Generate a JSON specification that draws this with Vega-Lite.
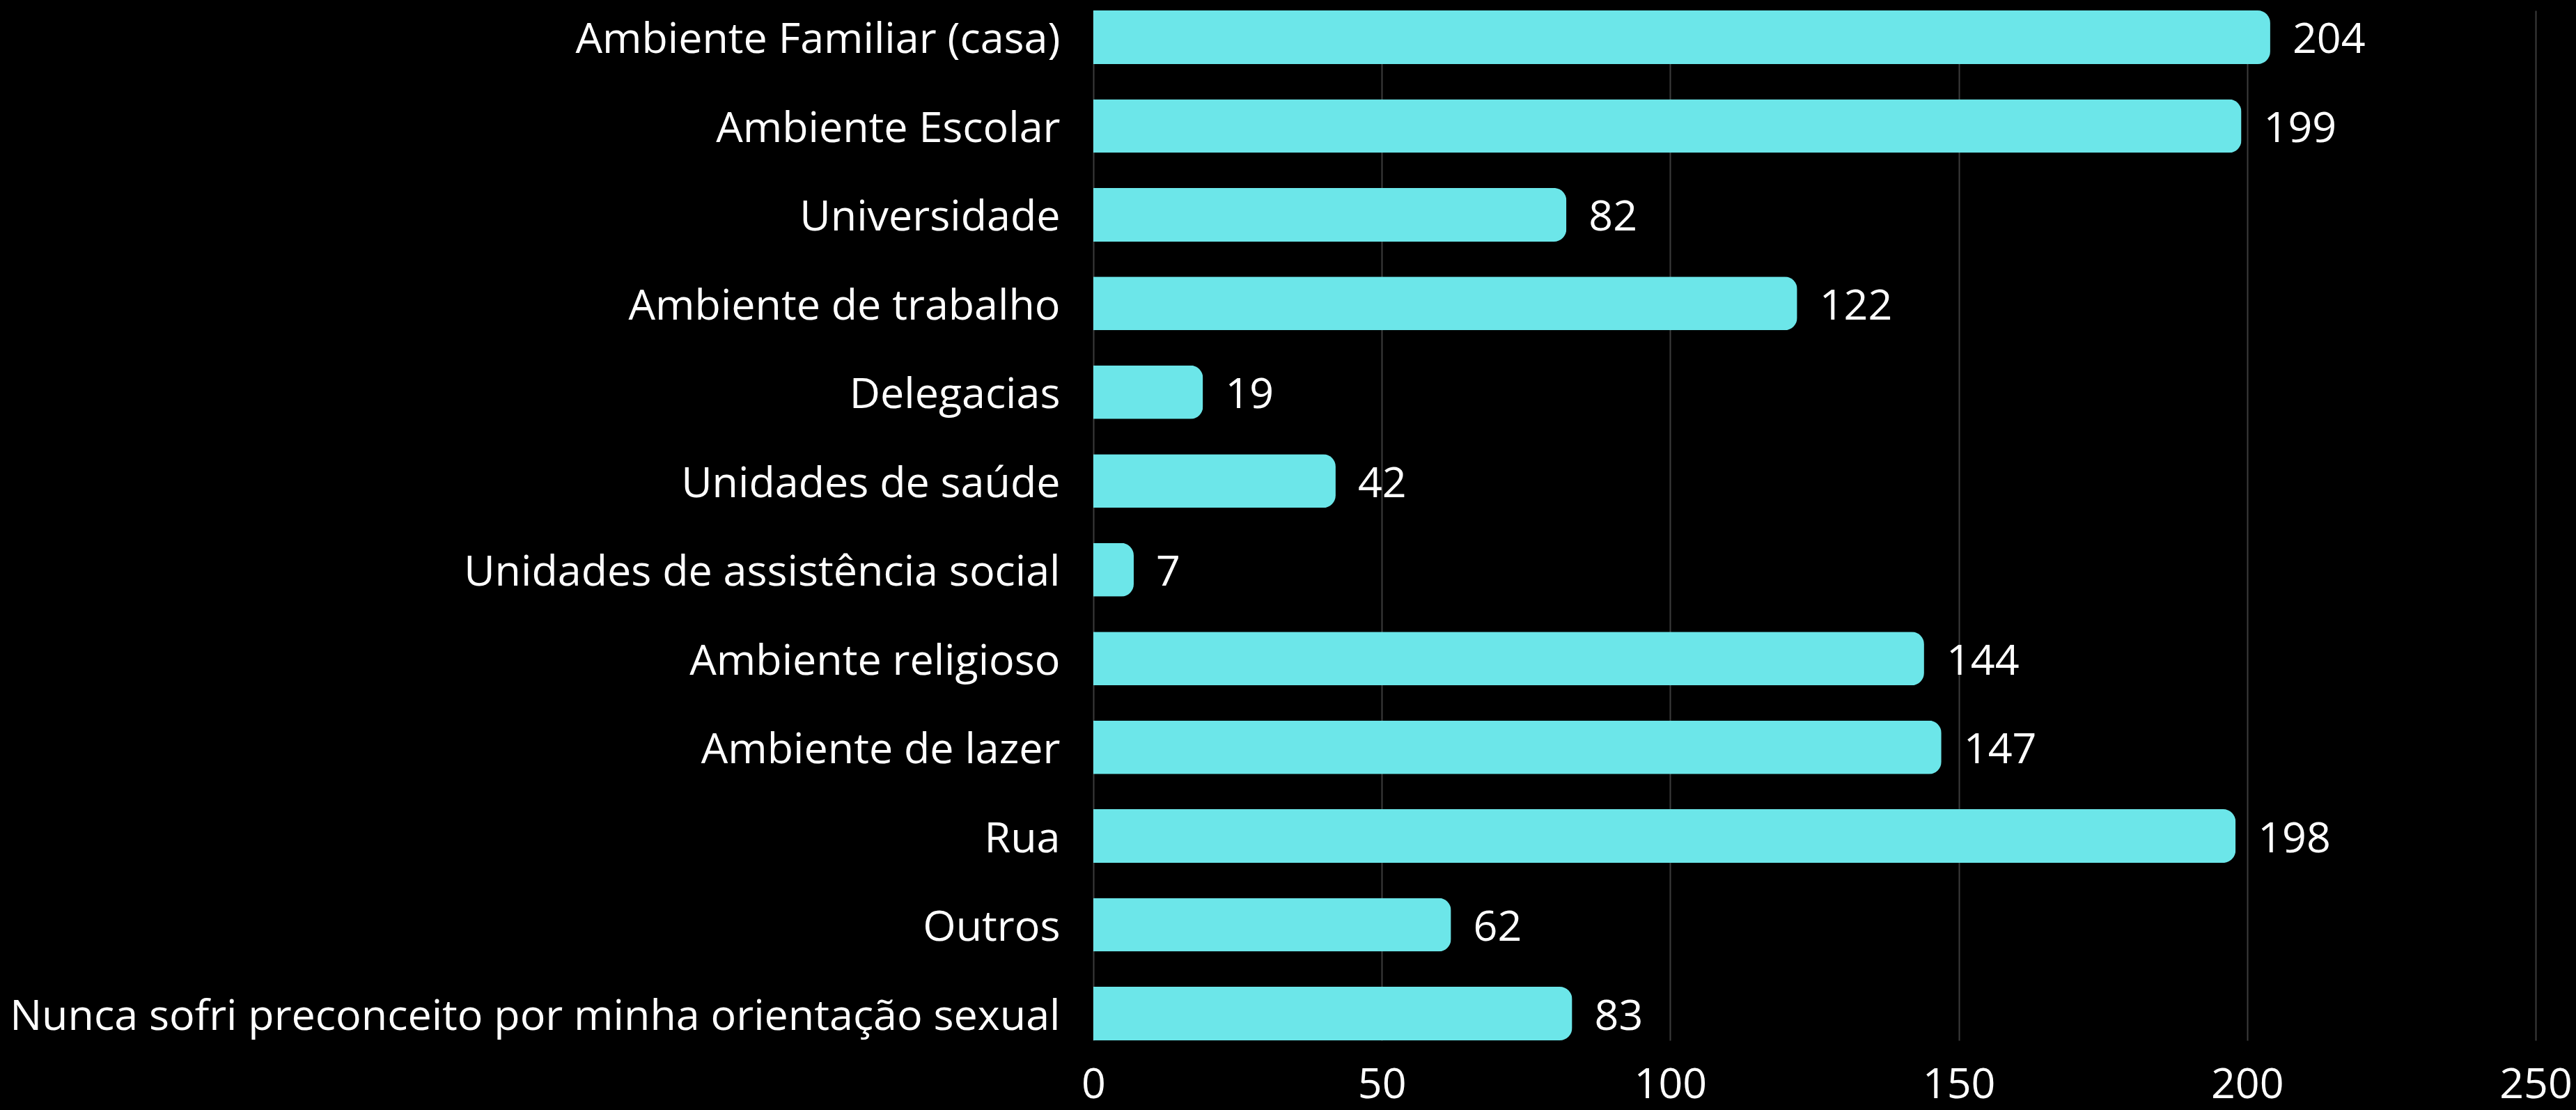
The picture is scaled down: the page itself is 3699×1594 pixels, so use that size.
{
  "$schema": "https://vega.github.io/schema/vega-lite/v6.json",
  "autosize": {"type": "none"},
  "width": 2071,
  "height": 1479,
  "padding": {"left": 1570, "top": 15, "right": 58, "bottom": 100},
  "background": "#000000",
  "config": {
    "view": {"stroke": null},
    "font": "Open Sans"
  },
  "data": {
    "values": [
      {"local": "Ambiente Familiar (casa)", "n": 204},
      {"local": "Ambiente Escolar", "n": 199},
      {"local": "Universidade", "n": 82},
      {"local": "Ambiente de trabalho", "n": 122},
      {"local": "Delegacias", "n": 19},
      {"local": "Unidades de saúde", "n": 42},
      {"local": "Unidades de assistência social", "n": 7},
      {"local": "Ambiente religioso", "n": 144},
      {"local": "Ambiente de lazer", "n": 147},
      {"local": "Rua", "n": 198},
      {"local": "Outros", "n": 62},
      {"local": "Nunca sofri preconceito por minha orientação sexual", "n": 83}
    ]
  },
  "encoding": {
    "y": {
      "field": "local",
      "type": "nominal",
      "sort": null,
      "scale": {"paddingInner": 0.396, "paddingOuter": 0},
      "axis": {
        "title": null,
        "domain": false,
        "ticks": false,
        "grid": false,
        "labelFont": "Open Sans",
        "labelFontSize": 61,
        "labelColor": "#ffffff",
        "labelPadding": 48,
        "labelOffset": 5,
        "labelLimit": 2000
      }
    },
    "x": {
      "field": "n",
      "type": "quantitative",
      "scale": {"domain": [0, 250], "nice": false},
      "axis": {
        "title": null,
        "values": [0, 50, 100, 150, 200, 250],
        "domain": false,
        "ticks": false,
        "grid": true,
        "gridColor": "#3c3c3c",
        "gridWidth": 2,
        "labelFont": "Open Sans",
        "labelFontSize": 61,
        "labelColor": "#ffffff",
        "labelPadding": 34,
        "labelFlush": false
      }
    }
  },
  "layer": [
    {
      "mark": {"type": "bar", "color": "#6ce6e9", "cornerRadiusEnd": 18}
    },
    {
      "mark": {"type": "text", "align": "left", "baseline": "middle", "dx": 32, "dy": 5, "fontSize": 61, "font": "Open Sans", "color": "#ffffff"},
      "encoding": {"text": {"field": "n", "type": "quantitative"}}
    }
  ]
}
